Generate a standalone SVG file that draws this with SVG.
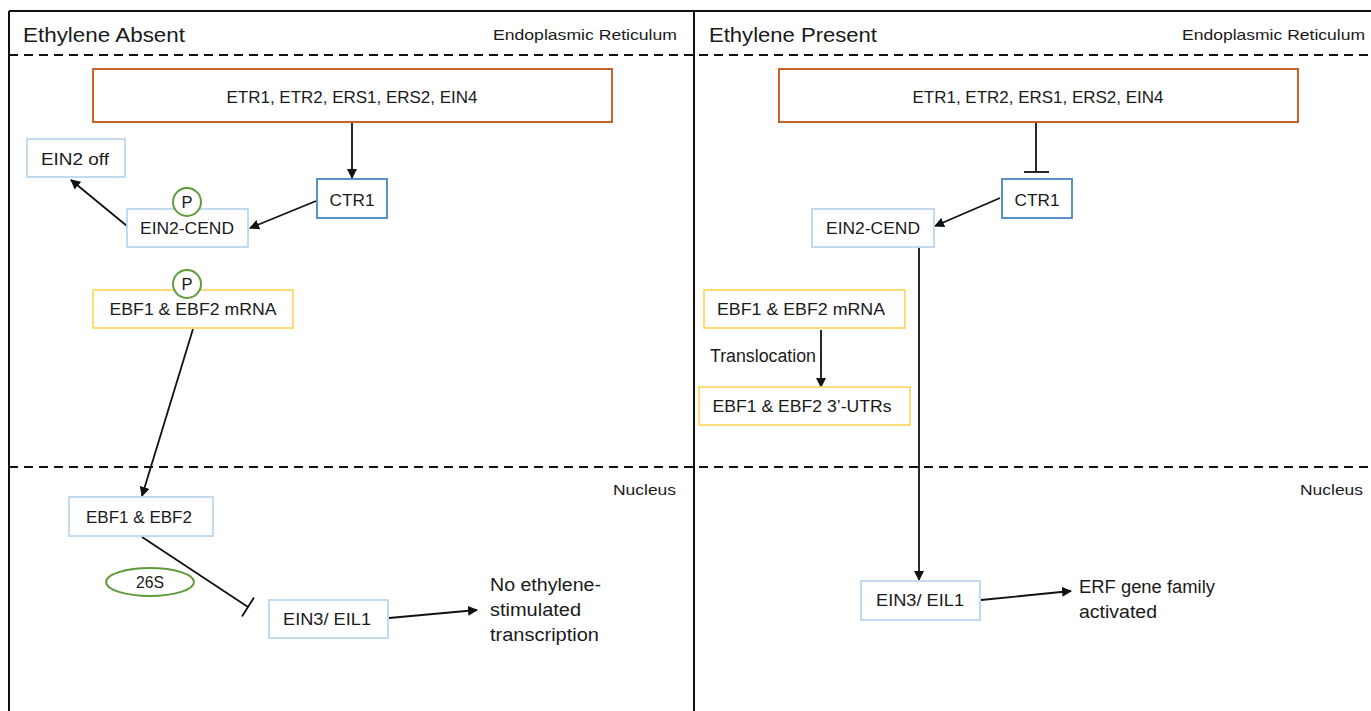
<svg xmlns="http://www.w3.org/2000/svg" width="1371" height="711" viewBox="0 0 1371 711">
  <defs>
    <marker id="arrow" viewBox="0 0 10 10" refX="9" refY="5" markerWidth="10" markerHeight="10" markerUnits="userSpaceOnUse" orient="auto">
      <path d="M0,0 L10,5 L0,10 z" fill="#111"/>
    </marker>
    <style>
      text { font-family: "Liberation Sans", Arial, sans-serif; fill: #1a1a1a; }
      .title { font-size: 21px; }
      .region { font-size: 14.5px; }
      .lbl { font-size: 16.5px; text-anchor: middle; }
      .free { font-size: 18px; }
      .frame { stroke: #111; stroke-width: 2; fill: none; }
      .dash { stroke: #111; stroke-width: 2.2; stroke-dasharray: 9 6; fill: none; }
      .receptor { fill: #fff; stroke: #C8642A; stroke-width: 2; }
      .kinase { fill: #fff; stroke: #4A86C5; stroke-width: 1.8; }
      .prot { fill: #fff; stroke: #BDD7EE; stroke-width: 1.8; }
      .rna { fill: #fff; stroke: #FFD966; stroke-width: 1.8; }
      .tag { fill: #fff; stroke: #5E9B3A; stroke-width: 2; }
      .edge { stroke: #111; stroke-width: 1.8; fill: none; }
      .act { marker-end: url(#arrow); }
    </style>
  </defs>

  <rect width="1371" height="711" fill="#fff"/>

  <!-- panel frame and compartment boundaries -->
  <g id="frame">
    <line class="frame" x1="9" y1="11" x2="1371" y2="11"/>
    <line class="frame" x1="9" y1="11" x2="9" y2="711"/>
    <line class="frame" x1="694" y1="11" x2="694" y2="711"/>
    <line class="dash" x1="9" y1="55" x2="1371" y2="55"/>
    <line class="dash" x1="9" y1="467" x2="1371" y2="467"/>
    <text class="title" x="23" y="42" textLength="162" lengthAdjust="spacingAndGlyphs">Ethylene Absent</text>
    <text class="region" x="493" y="40" textLength="184" lengthAdjust="spacingAndGlyphs">Endoplasmic Reticulum</text>
    <text class="title" x="709" y="42" textLength="168" lengthAdjust="spacingAndGlyphs">Ethylene Present</text>
    <text class="region" x="1182" y="40" textLength="183" lengthAdjust="spacingAndGlyphs">Endoplasmic Reticulum</text>
    <text class="region" x="613" y="495" textLength="63" lengthAdjust="spacingAndGlyphs">Nucleus</text>
    <text class="region" x="1300" y="495" textLength="63" lengthAdjust="spacingAndGlyphs">Nucleus</text>
  </g>

  <!-- connectors -->
  <g id="connectors">
    <!-- ethylene absent -->
    <line class="edge act" x1="352" y1="122" x2="352" y2="178"/>
    <line class="edge act" x1="316" y1="201" x2="250" y2="228"/>
    <line class="edge act" x1="127" y1="226" x2="71" y2="180"/>
    <line class="edge act" x1="193" y1="329" x2="142" y2="496"/>
    <line class="edge" x1="142" y1="537" x2="248" y2="607"/>
    <line class="edge" x1="242" y1="616.5" x2="254" y2="597.5"/>
    <line class="edge act" x1="389" y1="618" x2="477" y2="610"/>
    <!-- ethylene present -->
    <line class="edge" x1="1036" y1="122" x2="1036" y2="172"/>
    <line class="edge" x1="1024" y1="172" x2="1049" y2="172"/>
    <line class="edge act" x1="1000" y1="198" x2="935" y2="226"/>
    <line class="edge act" x1="919" y1="247" x2="919" y2="580"/>
    <line class="edge act" x1="821" y1="330" x2="821" y2="387"/>
    <line class="edge act" x1="981" y1="600" x2="1071" y2="591"/>
  </g>

  <!-- ethylene absent nodes -->
  <g id="receptors-absent">
    <rect class="receptor" x="93" y="69" width="519" height="53"/>
    <text class="lbl" x="352" y="103" textLength="251" lengthAdjust="spacingAndGlyphs">ETR1, ETR2, ERS1, ERS2, EIN4</text>
  </g>
  <g id="ctr1-absent">
    <rect class="kinase" x="317" y="179" width="70" height="39"/>
    <text class="lbl" x="352" y="206" textLength="45" lengthAdjust="spacingAndGlyphs">CTR1</text>
  </g>
  <g id="ein2-off">
    <rect class="prot" x="27" y="139" width="98" height="38"/>
    <text class="lbl" x="75" y="165" textLength="68" lengthAdjust="spacingAndGlyphs">EIN2 off</text>
  </g>
  <g id="ein2-cend-absent">
    <rect class="prot" x="127" y="209" width="121" height="38"/>
    <text class="lbl" x="187" y="234" textLength="94" lengthAdjust="spacingAndGlyphs">EIN2-CEND</text>
  </g>
  <g id="p-ein2">
    <circle class="tag" cx="187" cy="202" r="14"/>
    <text class="lbl" x="187" y="208">P</text>
  </g>
  <g id="ebf-mrna-absent">
    <rect class="rna" x="93" y="290" width="200" height="38"/>
    <text class="lbl" x="193" y="315" textLength="167" lengthAdjust="spacingAndGlyphs">EBF1 &amp; EBF2 mRNA</text>
  </g>
  <g id="p-ebf">
    <circle class="tag" cx="187" cy="284" r="14"/>
    <text class="lbl" x="187" y="290">P</text>
  </g>
  <g id="ebf-protein">
    <rect class="prot" x="69" y="497" width="144" height="39"/>
    <text class="lbl" x="139" y="523" textLength="106" lengthAdjust="spacingAndGlyphs">EBF1 &amp; EBF2</text>
  </g>
  <g id="proteasome">
    <ellipse class="tag" cx="150" cy="582" rx="44" ry="14"/>
    <text class="lbl" x="150" y="588" textLength="28" lengthAdjust="spacingAndGlyphs">26S</text>
  </g>
  <g id="ein3-absent">
    <rect class="prot" x="269" y="600" width="119" height="38"/>
    <text class="lbl" x="327" y="625" textLength="88" lengthAdjust="spacingAndGlyphs">EIN3/ EIL1</text>
  </g>
  <g id="no-transcription">
    <text class="free" x="490" y="591" textLength="111" lengthAdjust="spacingAndGlyphs">No ethylene-</text>
    <text class="free" x="490" y="616" textLength="91" lengthAdjust="spacingAndGlyphs">stimulated</text>
    <text class="free" x="490" y="641" textLength="109" lengthAdjust="spacingAndGlyphs">transcription</text>
  </g>

  <!-- ethylene present nodes -->
  <g id="receptors-present">
    <rect class="receptor" x="779" y="69" width="519" height="53"/>
    <text class="lbl" x="1038" y="103" textLength="251" lengthAdjust="spacingAndGlyphs">ETR1, ETR2, ERS1, ERS2, EIN4</text>
  </g>
  <g id="ctr1-present">
    <rect class="kinase" x="1002" y="179" width="70" height="39"/>
    <text class="lbl" x="1037" y="206" textLength="45" lengthAdjust="spacingAndGlyphs">CTR1</text>
  </g>
  <g id="ein2-cend-present">
    <rect class="prot" x="812" y="209" width="122" height="38"/>
    <text class="lbl" x="873" y="234" textLength="94" lengthAdjust="spacingAndGlyphs">EIN2-CEND</text>
  </g>
  <g id="ebf-mrna-present">
    <rect class="rna" x="704" y="290" width="201" height="38"/>
    <text class="lbl" x="801" y="315" textLength="168" lengthAdjust="spacingAndGlyphs">EBF1 &amp; EBF2 mRNA</text>
  </g>
  <g id="translocation">
    <text class="free" x="710" y="362" font-size="16" textLength="106" lengthAdjust="spacingAndGlyphs">Translocation</text>
  </g>
  <g id="ebf-utr">
    <rect class="rna" x="699" y="387" width="211" height="38"/>
    <text class="lbl" x="802" y="412" textLength="179" lengthAdjust="spacingAndGlyphs">EBF1 &amp; EBF2 3’-UTRs</text>
  </g>
  <g id="ein3-present">
    <rect class="prot" x="861" y="581" width="119" height="39"/>
    <text class="lbl" x="920" y="606" textLength="88" lengthAdjust="spacingAndGlyphs">EIN3/ EIL1</text>
  </g>
  <g id="erf-activated">
    <text class="free" x="1079" y="593" textLength="136" lengthAdjust="spacingAndGlyphs">ERF gene family</text>
    <text class="free" x="1079" y="618" textLength="78" lengthAdjust="spacingAndGlyphs">activated</text>
  </g>
</svg>
